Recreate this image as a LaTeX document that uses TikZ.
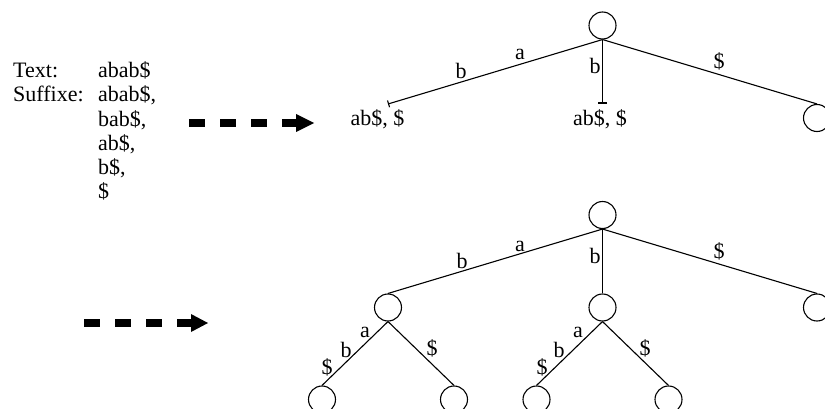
\documentclass[tikz,border=0pt]{standalone}
\usepackage{fontspec}
\setmainfont{Liberation Serif}
\usetikzlibrary{arrows.meta}
\begin{document}
\begin{tikzpicture}[x=1pt,y=-1pt,
  every node/.style={font=\fontsize{22}{24}\selectfont, inner sep=0pt},
  vert/.style={draw, circle, minimum size=27pt, line width=1.1pt},
  edge/.style={line width=1.1pt},
  lbl/.style={anchor=base},
  txt/.style={anchor=base west},
  bigarrow/.style={line width=8pt, dash pattern=on 15.5pt off 15.5pt}
]
\useasboundingbox (0,0) rectangle (825,409);
\clip (0,0) rectangle (825,409);

% input text and its suffixes
\node[txt] (tlab) at (13,78) {Text:};
\node[txt] (tval) at (98,78) {abab\$};
\node[txt] (slab) at (13,102) {Suffixe:};
\node[txt] (s1) at (98,102) {abab\$,};
\node[txt] (s2) at (98,126.5) {bab\$,};
\node[txt] (s3) at (98,151) {ab\$,};
\node[txt] (s4) at (98,175) {b\$,};
\node[txt] (s5) at (98,199) {\$};

% thick dashed step arrows
\coordinate (a1s) at (189,123);
\coordinate (a1e) at (297,123);
\draw[bigarrow] (a1s) -- (a1e);
\fill (296,114) -- (314,123) -- (296,132) -- cycle;
\coordinate (a2s) at (84,323);
\coordinate (a2e) at (192,323);
\draw[bigarrow] (a2s) -- (a2e);
\fill (191,314) -- (208,323) -- (191,332) -- cycle;

% first stage: root with unfinished branches
\node[vert] (t0) at (602.5,25.5) {};
\coordinate (tL) at (388,104);
\coordinate (tM) at (602.5,104);
\node[vert] (tR) at (817,118) {};
\draw[edge,-{Bar[width=7pt]}] (t0.south) -- (tL);
\draw[edge,-{Bar[width=9pt,line width=2pt]}] (t0.south) -- (tM);
\draw[edge] (t0.south) -- (tR.north);
\node[lbl] (ta) at (520,60) {a};
\node[lbl] (tb1) at (461,78.5) {b};
\node[lbl] (tb2) at (595,73.5) {b};
\node[lbl] (td) at (719,68.5) {\$};
\node[lbl] (tlw) at (377.5,125.5) {ab\$, \$};
\node[lbl] (tmw) at (600,125.5) {ab\$, \$};

% second stage: the complete tree
\node[vert] (b0) at (602.5,215) {};
\node[vert] (b1) at (388,307.5) {};
\node[vert] (b2) at (602.5,307.5) {};
\node[vert] (b3) at (817,307.5) {};
\node[vert] (b11) at (322,399.5) {};
\node[vert] (b12) at (454,399.5) {};
\node[vert] (b21) at (536.5,399.5) {};
\node[vert] (b22) at (668.5,399.5) {};
\draw[edge] (b0.south) -- (b1.north);
\draw[edge] (b0.south) -- (b2.north);
\draw[edge] (b0.south) -- (b3.north);
\draw[edge] (b1.south) -- (b11.north);
\draw[edge] (b1.south) -- (b12.north);
\draw[edge] (b2.south) -- (b21.north);
\draw[edge] (b2.south) -- (b22.north);
\node[lbl] (ba) at (520,251) {a};
\node[lbl] (bb1) at (462,268) {b};
\node[lbl] (bb2) at (595,263) {b};
\node[lbl] (bd) at (719,258) {\$};
\node[lbl] (l1a) at (365,337) {a};
\node[lbl] (l1b) at (346,357) {b};
\node[lbl] (l1d) at (327,374) {\$};
\node[lbl] (l1r) at (432,355) {\$};
\node[lbl] (l2a) at (578,337) {a};
\node[lbl] (l2b) at (559,357) {b};
\node[lbl] (l2d) at (542,374) {\$};
\node[lbl] (l2r) at (645,355) {\$};
\end{tikzpicture}
\end{document}
